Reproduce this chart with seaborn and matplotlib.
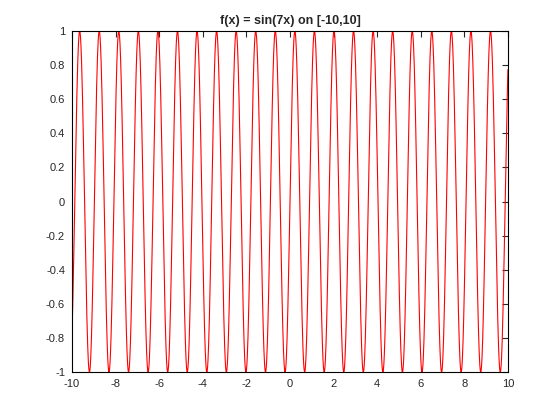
import numpy as np
import pandas as pd
import matplotlib
matplotlib.use("Agg")
import matplotlib.pyplot as plt
import seaborn as sns

# function shown in the title: f(x) = sin(7x) on [-10, 10]
x_range = [-10, 10]
freq = 7
n_samples = 2000
x_ticks = [-10, -8, -6, -4, -2, 0, 2, 4, 6, 8, 10]
y_ticks = [-1, -0.8, -0.6, -0.4, -0.2, 0, 0.2, 0.4, 0.6, 0.8, 1]
y_labels = ["-1", "-0.8", "-0.6", "-0.4", "-0.2", "0", "0.2", "0.4", "0.6", "0.8", "1"]

xs = np.linspace(x_range[0], x_range[1], n_samples)
df = pd.DataFrame({"x": xs, "y": np.sin(freq * xs)})

sns.set_style("white")
plt.rcParams['font.family'] = ['Liberation Sans', 'DejaVu Sans']

fig = plt.figure(figsize=(5.6, 4.2), dpi=100)
ax = fig.add_axes([0.1286, 0.114, 0.7784, 0.812])
sns.lineplot(data=df, x="x", y="y", color="red", linewidth=0.8, ax=ax)

ax.set_xlim(x_range)
ax.set_ylim(-1, 1)
ax.set_xticks(x_ticks)
ax.set_xticklabels([str(t) for t in x_ticks])
ax.set_yticks(y_ticks)
ax.set_yticklabels(y_labels)
ax.tick_params(direction="in", length=4, width=0.8, labelsize=8, colors="#262626",
               top=True, right=True, pad=5)
for s in ax.spines.values():
    s.set_color("black")
    s.set_linewidth(0.8)
ax.set_xlabel("")
ax.set_ylabel("")
ax.set_title("f(x) = sin(7x) on [-10,10]", fontsize=9, fontweight="bold", pad=5)

fig.savefig("out.png", dpi=100)
